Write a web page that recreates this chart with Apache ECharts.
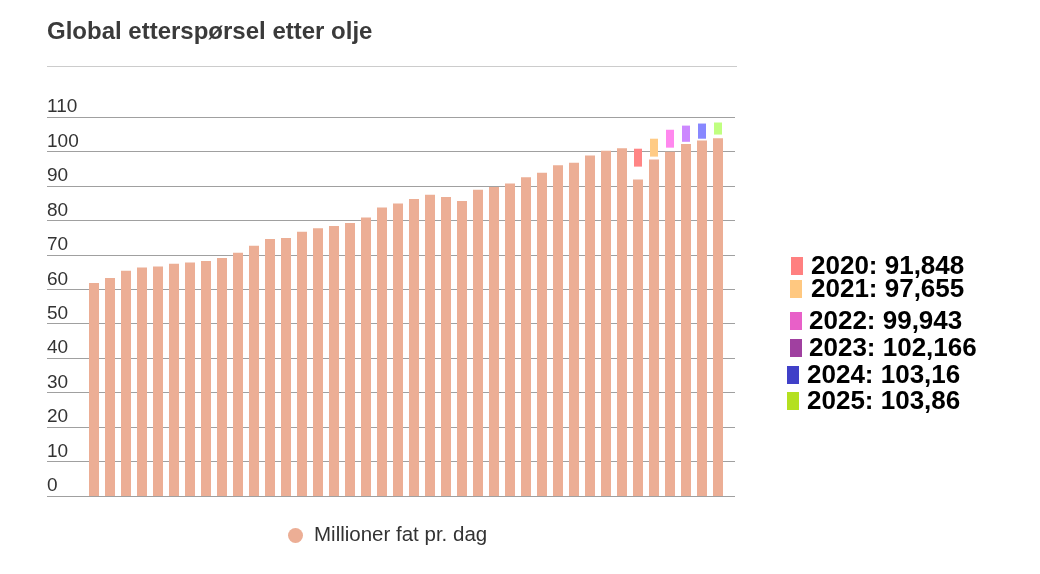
<!DOCTYPE html>
<html>
<head>
<meta charset="utf-8">
<script src="https://cdn.jsdelivr.net/npm/echarts@6/dist/echarts.min.js"></script>
<style>
  html, body { margin: 0; padding: 0; background: #fff; }
  #chart { width: 1040px; height: 574px; }
</style>
</head>
<body>
<div id="chart"></div>
<script>
// ---- Data ----
var titleText = 'Global etterspørsel etter olje';
var seriesName = 'Millioner fat pr. dag';
var years = ['1986','1987','1988','1989','1990','1991','1992','1993','1994','1995',
             '1996','1997','1998','1999','2000','2001','2002','2003','2004','2005',
             '2006','2007','2008','2009','2010','2011','2012','2013','2014','2015',
             '2016','2017','2018','2019','2020','2021','2022','2023','2024','2025'];
var demand = [61.8, 63.3, 65.4, 66.3, 66.6, 67.4, 67.8, 68.2, 69.1, 70.6,
              72.6, 74.6, 74.9, 76.7, 77.7, 78.4, 79.2, 80.8, 83.7, 84.9,
              86.2, 87.4, 86.8, 85.6, 88.9, 89.7, 90.7, 92.5, 93.8, 96.0,
              96.7, 98.8, 100.2, 100.9, 91.848, 97.655, 99.943, 102.166, 103.16, 103.86];
var yTicks = [0, 10, 20, 30, 40, 50, 60, 70, 80, 90, 100, 110];
// Highlight marks above the last six bars
var hlYears = ['2020', '2021', '2022', '2023', '2024', '2025'];
var hlLow   = [95.6, 98.5, 101.1, 102.8, 103.7, 104.9];
var hlHigh  = [100.8, 103.7, 106.3, 107.5, 108.1, 108.4];
// Side annotation values
var noteYears  = ['2020', '2021', '2022', '2023', '2024', '2025'];
var noteValues = ['91,848', '97,655', '99,943', '102,166', '103,16', '103,86'];

// ---- Styles / layout ----
var barColor = '#ecae95';
var hlColors = ['#ff8585', '#ffcb85', '#ff88ee', '#cc88ff', '#8888ff', '#c0ff80'];
var noteColors = ['#ff8080', '#ffc880', '#e860c8', '#a040a0', '#4040c8', '#b4e020'];
var noteY = [267, 290, 322, 349, 376, 402];
var noteSquareX = [791, 790, 790, 790, 787, 787];
var noteTextX = [811, 811, 809, 809, 807, 807];

var chart = echarts.init(document.getElementById('chart'));

var hlData = hlYears.map(function (y, i) {
  return { value: [years.indexOf(y), hlLow[i], hlHigh[i]], itemStyle: { color: hlColors[i] } };
});

var graphics = [
  { type: 'line', shape: { x1: 47, y1: 66.5, x2: 737, y2: 66.5 },
    style: { stroke: '#cccccc', lineWidth: 1 }, silent: true }
];
noteYears.forEach(function (y, i) {
  graphics.push({
    type: 'rect', shape: { x: noteSquareX[i], y: noteY[i] - 10, width: 12, height: 18 },
    style: { fill: noteColors[i] }, silent: true
  });
  graphics.push({
    type: 'text', x: noteTextX[i], y: noteY[i],
    style: { text: y + ': ' + noteValues[i], fill: '#000',
             font: 'bold 26px "Liberation Sans", Arial, sans-serif',
             verticalAlign: 'middle', align: 'left' },
    silent: true
  });
});

var option = {
  animation: false,
  backgroundColor: '#ffffff',
  title: {
    text: titleText, left: 42, top: 15,
    textStyle: { fontFamily: '"Liberation Sans", Arial, sans-serif', fontSize: 24, fontWeight: 'bold', color: '#3a3a3a' }
  },
  legend: {
    data: [seriesName], left: 288, top: 525, padding: 0,
    icon: 'circle', itemWidth: 15, itemHeight: 15,
    textStyle: { fontFamily: '"Liberation Sans", Arial, sans-serif', fontSize: 20.5, color: '#333', padding: [0, 0, 0, 6] }
  },
  grid: [
    { left: 47, right: 1040 - 735, top: 117, bottom: 574 - 496 },
    { left: 86, right: 1040 - 726, top: 117, bottom: 574 - 496 }
  ],
  xAxis: [
    { gridIndex: 0, type: 'value', show: false, min: 0, max: 1 },
    { gridIndex: 1, type: 'category', data: years, show: false }
  ],
  yAxis: [
    { gridIndex: 0, type: 'value', min: 0, max: 110, interval: 10,
      axisLine: { show: false }, axisTick: { show: false },
      splitLine: { show: true, lineStyle: { color: '#a0a0a0', width: 1 } },
      axisLabel: { inside: true, margin: 0, verticalAlign: 'bottom', lineHeight: 20,
                   fontFamily: '"Liberation Sans", Arial, sans-serif', fontSize: 19, color: '#333',
                   formatter: function (v) { return yTicks.indexOf(v) >= 0 ? String(v) : ''; } } },
    { gridIndex: 1, type: 'value', min: 0, max: 110, show: false }
  ],
  series: [
    { name: seriesName, type: 'bar', xAxisIndex: 1, yAxisIndex: 1,
      data: demand, barWidth: 10, itemStyle: { color: barColor }, z: 2 },
    { name: 'highlight', type: 'custom', xAxisIndex: 1, yAxisIndex: 1, z: 3,
      data: hlData,
      renderItem: function (params, api) {
        var top = api.coord([api.value(0), api.value(2)]);
        var bottom = api.coord([api.value(0), api.value(1)]);
        var w = 8;
        return { type: 'rect',
                 shape: { x: top[0] - w / 2, y: top[1], width: w, height: bottom[1] - top[1] },
                 style: { fill: api.visual('color') } };
      },
      encode: { x: 0, y: [1, 2] }
    }
  ],
  graphic: graphics
};
chart.setOption(option);
</script>
</body>
</html>
